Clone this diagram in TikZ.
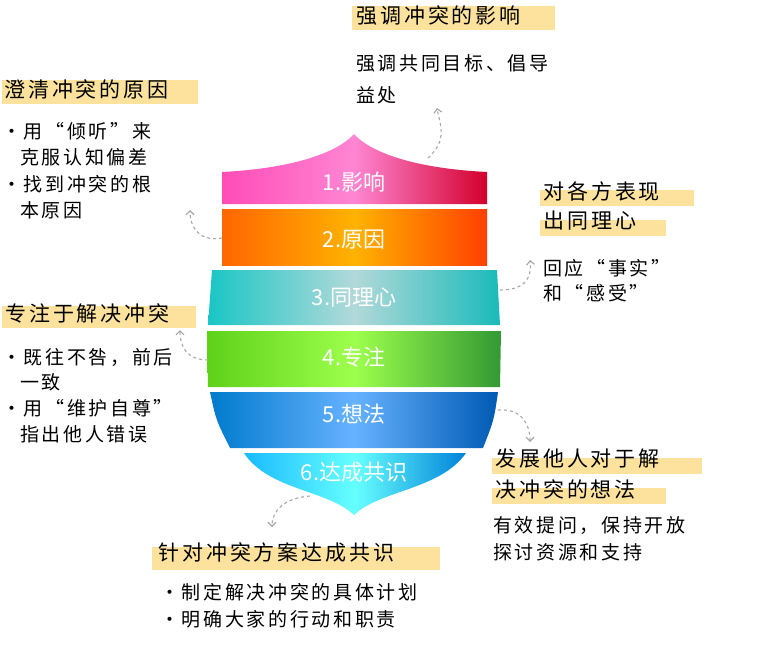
\documentclass[tikz,border=0pt]{standalone}
\usepackage{fontspec}
\setmainfont{Noto Sans CJK SC}
\newfontfamily\hand[LetterSpace=14]{Noto Sans CJK SC}
\usetikzlibrary{arrows.meta}
\definecolor{hl}{HTML}{FCE29C}
\tikzset{
  band/.style={draw=none},
  lbl/.style={text=white,font=\fontsize{22}{22}\selectfont},
  head/.style={anchor=west,inner sep=0pt,font=\hand\fontsize{21}{21}\selectfont},
  body/.style={anchor=west,inner sep=0pt,font=\hand\fontsize{19}{19}\selectfont},
  link/.style={draw=gray!70,dashed,line width=1.1pt,-{Straight Barb[length=4pt,width=8pt]}},
}
\begin{document}
\begin{tikzpicture}[x=1pt,y=-1pt]
\useasboundingbox (0,0) rectangle (778,658);
% bands of the shield
\shade[band,left color=magenta!60!red!70,right color=purple!70!red,middle color=pink!70!magenta]
  (222,172) .. controls (300,168) and (340,150) .. (354,134) .. controls (368,150) and (408,168) .. (487,172)
  -- (487,204) -- (222,204) -- cycle;
\shade[band,left color=orange!80!red,right color=red!50!orange,middle color=orange!60!yellow]
  (222,209) -- (487,209) -- (487,265) -- (222,265) -- cycle;
\shade[band,left color=teal!50!cyan!90!white,right color=teal!60!cyan!90!white,middle color=teal!30!white]
  (212,270) -- (497,270) -- (500,325) -- (208,325) -- cycle;
\shade[band,left color=lime!50!green!80!black!90!white,right color=green!50!black!80!white,middle color=lime!60!green!70!white]
  (207,331) -- (501,331) -- (500,387) -- (208,387) -- cycle;
\shade[band,left color=blue!40!cyan!80!black,right color=blue!50!cyan!70!black,middle color=cyan!50!blue!60]
  (210,392) -- (498,392) .. controls (494,420) .. (483,448) -- (230,448) .. controls (216,420) .. (210,392) -- cycle;
\shade[band,left color=cyan!70!blue!90!white,right color=cyan!60!blue!85!black,middle color=cyan!60]
  (244,453) -- (466,453) .. controls (440,490) and (380,490) .. (354,515) .. controls (328,490) and (268,490) .. (244,453) -- cycle;
\node[lbl] (b1) at (354,182) {1.影响};
\node[lbl] (b2) at (354,240) {2.原因};
\node[lbl] (b3) at (354,298) {3.同理心};
\node[lbl] (b4) at (354,357) {4.专注};
\node[lbl] (b5) at (354,414) {5.想法};
\node[lbl] (b6) at (354,472) {6.达成共识};
% headings and notes
\fill[hl] (352,6) rectangle (555,30);
\node[head] (t1) at (356,16) {强调冲突的影响};
\node[body] at (356,63) {强调共同目标、倡导};
\node[body] at (356,95) {益处};
\fill[hl] (2,80) rectangle (198,104);
\node[head] (t2) at (4,89) {澄清冲突的原因};
\node[body] at (2,131) {·用“倾听”来};
\node[body] at (20,157) {克服认知偏差};
\node[body] at (2,184) {·找到冲突的根};
\node[body] at (20,210) {本原因};
\fill[hl] (540,190) rectangle (694,206);
\fill[hl] (540,220) rectangle (666,236);
\node[head] (t3) at (543,191) {对各方表现};
\node[head] at (543,221) {出同理心};
\node[body] at (543,268) {回应“事实”};
\node[body] at (543,293) {和“感受”};
\fill[hl] (2,306) rectangle (196,328);
\node[head] (t4) at (5,313) {专注于解决冲突};
\node[body] at (2,357) {·既往不咎，前后};
\node[body] at (20,382) {一致};
\node[body] at (2,408) {·用“维护自尊”};
\node[body] at (20,434) {指出他人错误};
\fill[hl] (492,458) rectangle (702,474);
\fill[hl] (492,488) rectangle (666,504);
\node[head] (t5) at (495,459) {发展他人对于解};
\node[head] at (495,489) {决冲突的想法};
\node[body] at (493,526) {有效提问，保持开放};
\node[body] at (493,552) {探讨资源和支持};
\fill[hl] (152,547) rectangle (440,570);
\node[head] (t6) at (158,553) {针对冲突方案达成共识};
\node[body] at (160,592) {·制定解决冲突的具体计划};
\node[body] at (160,619) {·明确大家的行动和职责};
% connectors
\coordinate (e1) at (437,108);
\coordinate (e2) at (190,210);
\coordinate (e3) at (530,260);
\coordinate (e4) at (180,330);
\coordinate (e5) at (530,442);
\coordinate (e6) at (272,527);
\draw[link] (428,158) .. controls (448,140) and (440,125) .. (e1);
\draw[link] (222,238) .. controls (200,242) and (190,228) .. (e2);
\draw[link] (500,290) .. controls (525,290) and (532,278) .. (e3);
\draw[link] (208,360) .. controls (188,360) and (180,348) .. (e4);
\draw[link] (498,410) .. controls (522,408) and (530,425) .. (e5);
\draw[link] (310,496) .. controls (285,498) and (272,510) .. (e6);
\end{tikzpicture}
\end{document}
